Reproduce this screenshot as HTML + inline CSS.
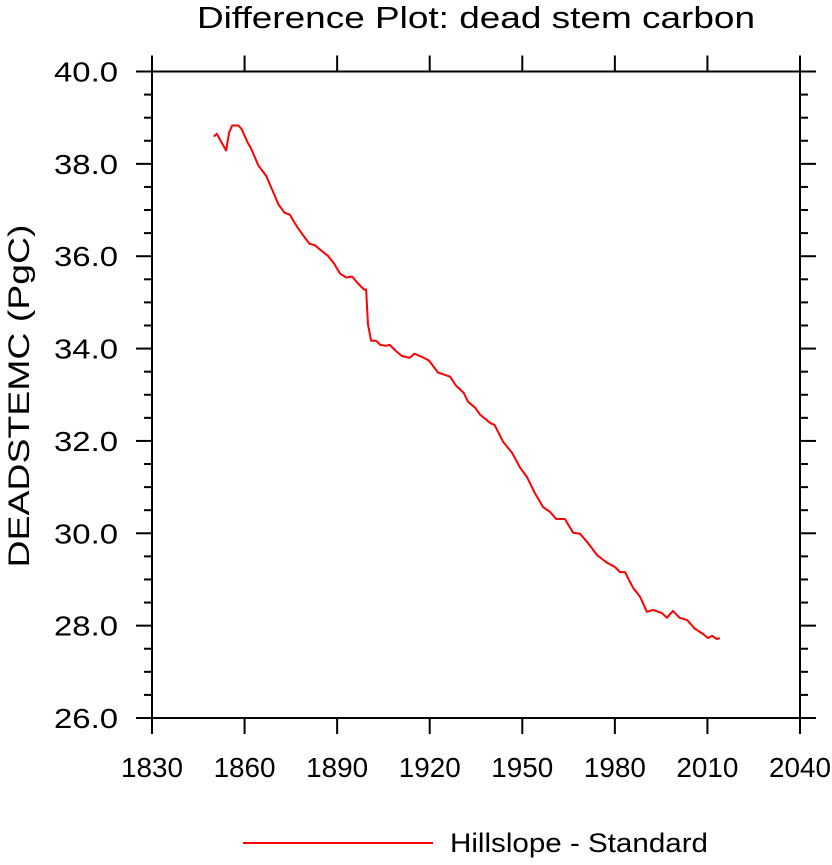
<!DOCTYPE html>
<html><head><meta charset="utf-8"><style>
body{margin:0;background:#fff;}
svg text{font-family:"Liberation Sans",sans-serif;fill:#000;}
</style></head><body>
<svg id="chart" width="832" height="860" viewBox="0 0 832 860" xmlns="http://www.w3.org/2000/svg">
<text x="476" y="28" font-size="31" text-anchor="middle" textLength="558" lengthAdjust="spacingAndGlyphs">Difference Plot: dead stem carbon</text>
<text transform="translate(29,396) rotate(-90)" font-size="30" text-anchor="middle" textLength="343" lengthAdjust="spacingAndGlyphs">DEADSTEMC  (PgC)</text>
<g id="axes"></g>
<path id="series" fill="none" stroke="#ff0000" stroke-width="2" stroke-linejoin="round"/>
<line x1="243" y1="843" x2="433" y2="843" stroke="#ff0000" stroke-width="2"/>
<text x="450" y="852" font-size="27" textLength="258" lengthAdjust="spacingAndGlyphs">Hillslope - Standard</text>
</svg>
<script>
const years = [1850,1851,1854,1855,1856,1858,1859,1861,1862,1864.5,1867,1871,1873,1874.7,1877,1879,1881,1883,1884.5,1886,1887,1889,1891,1893,1894.8,1896.8,1898.7,1899.4,1900,1901,1902.6,1904,1905.8,1907,1909,1911,1913.5,1915,1917.5,1919.8,1922.7,1925,1926.6,1928.5,1931,1932.4,1934.7,1936.3,1938,1939.5,1941,1943.8,1946.7,1949.3,1951.5,1954,1956.7,1959,1961,1963.8,1966.5,1968.7,1971.3,1974.2,1977.5,1980,1981.7,1983.3,1985.9,1988.2,1990.4,1992.4,1995.3,1996.9,1998.8,2001,2003.4,2006,2008.6,2010.2,2011.5,2013,2014];
const values = [38.59,38.65,38.29,38.68,38.83,38.83,38.76,38.46,38.35,37.96,37.74,37.12,36.94,36.90,36.64,36.45,36.27,36.23,36.14,36.06,36.01,35.84,35.62,35.54,35.56,35.41,35.28,35.28,34.52,34.17,34.17,34.08,34.06,34.08,33.95,33.84,33.80,33.89,33.82,33.74,33.48,33.43,33.39,33.20,33.04,32.85,32.72,32.57,32.48,32.39,32.35,31.98,31.74,31.42,31.22,30.88,30.57,30.46,30.31,30.31,30.01,29.99,29.79,29.53,29.36,29.27,29.16,29.16,28.82,28.62,28.30,28.34,28.27,28.17,28.32,28.17,28.12,27.93,27.82,27.73,27.78,27.71,27.73];
const xTicks = [1830,1860,1890,1920,1950,1980,2010,2040];
const yTicks = [26,28,30,32,34,36,38,40];

const X0=152,X1=800,Y0=71.5,Y1=718;
const sx = v => X0 + (v-1830)/(2040-1830)*(X1-X0);
const sy = v => Y0 + (40-v)/(40-26)*(Y1-Y0);
const NS="http://www.w3.org/2000/svg";
const axes=document.getElementById('axes');
function ln(x1,y1,x2,y2,name){
  const l=document.createElementNS(NS,'line');
  l.setAttribute('x1',x1);l.setAttribute('y1',y1);l.setAttribute('x2',x2);l.setAttribute('y2',y2);
  l.setAttribute('stroke','#000');l.setAttribute('stroke-width','2');
  
  
  axes.appendChild(l);
}
function tx(x,y,s,anchor,len,name){
  const t=document.createElementNS(NS,'text');
  t.setAttribute('x',x);t.setAttribute('y',y);t.setAttribute('font-size','28');t.setAttribute('text-anchor',anchor);
  t.setAttribute('textLength',len);t.setAttribute('lengthAdjust','spacingAndGlyphs');
  t.textContent=s;
  
  
  axes.appendChild(t);
}
const f=document.createElementNS(NS,'rect');
f.setAttribute('x',X0);f.setAttribute('y',Y0);f.setAttribute('width',X1-X0);f.setAttribute('height',Y1-Y0);
f.setAttribute('fill','none');f.setAttribute('stroke','#000');f.setAttribute('stroke-width','2');


axes.appendChild(f);
xTicks.forEach(v=>{const x=sx(v); ln(x,Y1,x,Y1+16,'x-tick'); ln(x,Y0,x,Y0-16,'x-tick-top');});
xTicks.forEach(v=>tx(sx(v),Y1+59,String(v),'middle',62,'x-tick-label'));
for(let v=26; v<=40.001; v+=0.5){
  const y=sy(v); const major=Math.abs(v-Math.round(v/2)*2)<1e-6; const L=major?16:8;
  ln(X0,y,X0-L,y,'y-tick'); ln(X1,y,X1+L,y,'y-tick-right');
}
yTicks.forEach(v=>tx(X0-34,sy(v)+10,v.toFixed(1),'end',64,'y-tick-label'));
document.getElementById('series').setAttribute('d', years.map((y,i)=>(i?'L':'M')+sx(y).toFixed(1)+','+sy(values[i]).toFixed(1)).join(''));
</script>
</body></html>
